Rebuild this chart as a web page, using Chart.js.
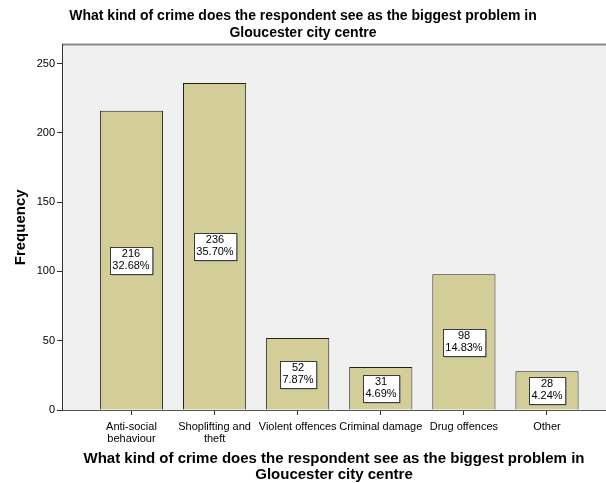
<!DOCTYPE html>
<html>
<head>
<meta charset="utf-8">
<script src="https://cdn.jsdelivr.net/npm/chart.js@4"></script>
<style>
    body { margin: 0; background: #fff; }
    #wrap { width: 606px; height: 483px; }
</style>
</head>
<body>
<div id="wrap"><canvas id="bar"></canvas></div>
<script>
// Tipos de delito y frecuencias
const categorias = [
    ['Anti-social', 'behaviour'],
    ['Shoplifting and', 'theft'],
    'Violent offences',
    'Criminal damage',
    'Drug offences',
    'Other'
];
const frecuencias = [216, 236, 52, 31, 98, 28];
const porcentajes = ['32.68%', '35.70%', '7.87%', '4.69%', '14.83%', '4.24%'];
const ticksY = [0, 50, 100, 150, 200, 250];

const tituloVariable = ['What kind of crime does the respondent see as the biggest problem in', 'Gloucester city centre'];

(function () {
    const fuente = "'Liberation Sans', Arial, sans-serif";

    // Fondo gris del área del gráfico y línea superior
    const fondoArea = {
        id: 'fondoArea',
        beforeDraw(chart) {
            const { ctx, chartArea: a } = chart;
            ctx.save();
            ctx.fillStyle = '#f0f0f0';
            ctx.fillRect(a.left, a.top, a.right - a.left, a.bottom - a.top);
            ctx.strokeStyle = '#8a8a8a';
            ctx.lineWidth = 2;
            ctx.beginPath();
            ctx.moveTo(a.left, a.top);
            ctx.lineTo(a.right, a.top);
            ctx.stroke();
            ctx.restore();
        }
    };

    // Etiquetas con frecuencia y porcentaje en el centro de cada barra
    const etiquetas = {
        id: 'etiquetas',
        afterDatasetsDraw(chart) {
            const { ctx } = chart;
            const meta = chart.getDatasetMeta(0);
            ctx.save();
            ctx.font = '11px ' + fuente;
            ctx.textAlign = 'center';
            ctx.textBaseline = 'middle';
            meta.data.forEach((barra, i) => {
                const lineas = [String(frecuencias[i]), porcentajes[i]];
                const ancho = Math.max(...lineas.map(l => ctx.measureText(l).width)) + 5;
                const alto = 27;
                const cx = Math.round(barra.x);
                const cy = Math.round((barra.y + barra.base) / 2);
                const x = Math.round(cx - ancho / 2) + 0.5;
                const y = Math.round(cy - alto / 2) + 0.5;
                // sombra
                ctx.fillStyle = '#9a9a9a';
                ctx.fillRect(x + 1, y + 1, ancho, alto);
                ctx.fillStyle = '#fff';
                ctx.fillRect(x, y, ancho, alto);
                ctx.strokeStyle = '#3a3a3a';
                ctx.lineWidth = 1;
                ctx.strokeRect(x, y, ancho, alto);
                ctx.fillStyle = '#000';
                ctx.fillText(lineas[0], cx, cy - 6);
                ctx.fillText(lineas[1], cx, cy + 6);
            });
            ctx.restore();
        }
    };

    const bar = document.getElementById('bar').getContext('2d');

    let grafico = new Chart(bar, {
        type: 'bar',
        data: {
            datasets: [{
                data: frecuencias.map((v, i) => ({ x: i, y: v })),
                backgroundColor: '#d3ce97',
                borderColor: '#222',
                borderWidth: 1,
                barPercentage: 0.76,
                categoryPercentage: 1
            }]
        },
        options: {
            responsive: true,
            maintainAspectRatio: false,
            animation: false,
            layout: { padding: { left: 0, right: 0, top: 0, bottom: 0 } },
            plugins: {
                legend: { display: false },
                tooltip: { enabled: false },
                title: {
                    display: true,
                    text: tituloVariable,
                    color: '#000',
                    font: { family: fuente, size: 14, weight: 'bold', lineHeight: 1.2 },
                    padding: { top: 8, bottom: 3 }
                }
            },
            scales: {
                x: {
                    type: 'linear',
                    offset: false,
                    min: -0.836,
                    max: 5.71,
                    afterBuildTicks(scale) {
                        scale.ticks = categorias.map((c, i) => ({ value: i }));
                    },
                    afterFit(scale) {
                        scale.height = 73;
                    },
                    ticks: {
                        autoSkip: false,
                        maxRotation: 0,
                        color: '#000',
                        padding: 6,
                        font: { family: fuente, size: 11, lineHeight: 1.1 },
                        callback: (v) => categorias[v]
                    },
                    grid: { offset: false, drawOnChartArea: false, drawTicks: true, tickLength: 5, color: '#333' },
                    border: { display: true, color: '#555', width: 1 },
                    title: {
                        display: true,
                        text: tituloVariable,
                        color: '#000',
                        font: { family: fuente, size: 15, weight: 'bold', lineHeight: 1.07 },
                        padding: { top: 6, bottom: 0 }
                    }
                },
                y: {
                    min: 0,
                    max: 263.7,
                    afterBuildTicks(scale) {
                        scale.ticks = ticksY.map(v => ({ value: v }));
                    },
                    afterFit(scale) {
                        scale.width = 62;
                    },
                    ticks: {
                        color: '#000',
                        padding: 2,
                        font: { family: fuente, size: 11 }
                    },
                    grid: { drawOnChartArea: false, drawTicks: true, tickLength: 5, color: '#333' },
                    border: { display: true, color: '#333', width: 1 },
                    title: {
                        display: true,
                        text: 'Frequency',
                        color: '#000',
                        font: { family: fuente, size: 15, weight: 'bold' },
                        padding: { top: 12, bottom: 6 }
                    }
                }
            }
        },
        plugins: [fondoArea, etiquetas]
    });
})();
</script>
</body>
</html>
